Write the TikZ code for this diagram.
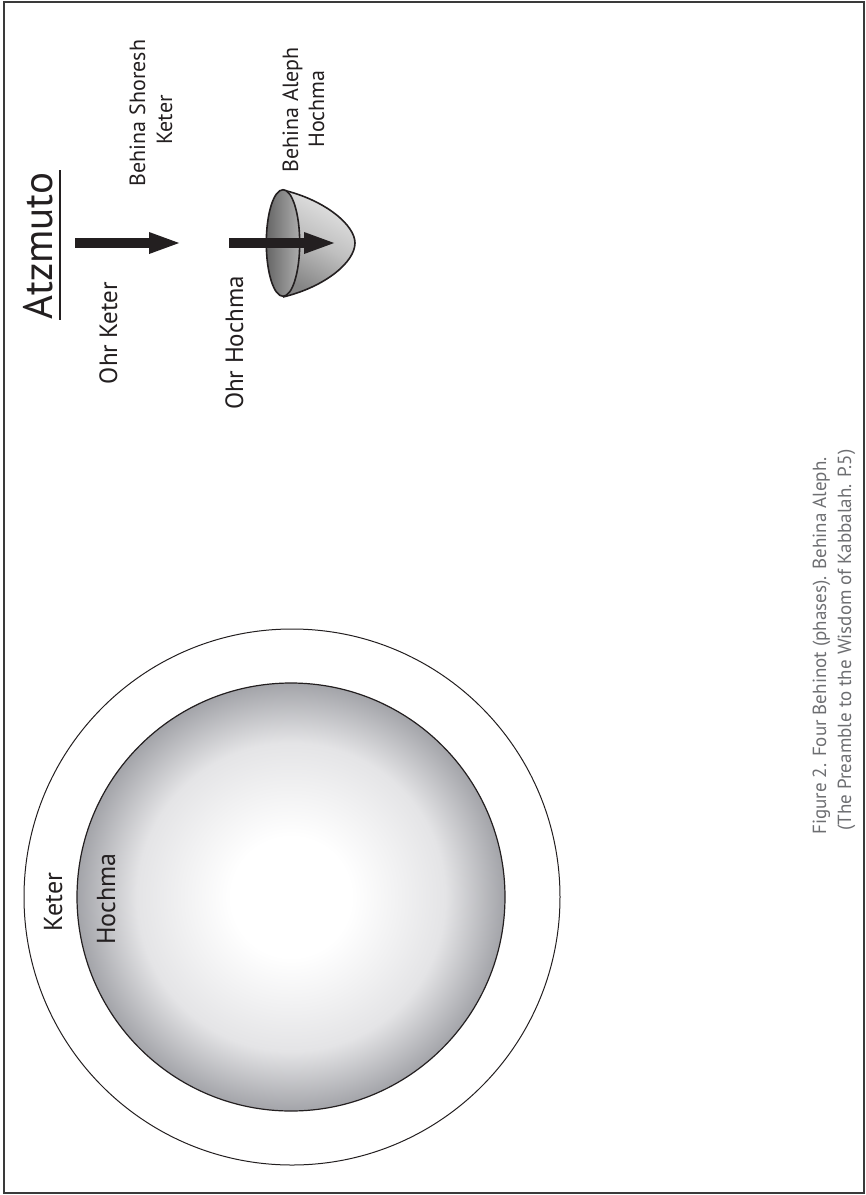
\documentclass[tikz,border=0pt]{standalone}
\usepackage{fontspec}
\setmainfont{PT Sans}
\usetikzlibrary{arrows.meta}
\definecolor{ink}{HTML}{231F20}
\definecolor{framec}{HTML}{3A3A3A}
\definecolor{capc}{HTML}{6D6E71}
\definecolor{edgegray}{RGB}{163,164,169}
\definecolor{midgray}{RGB}{228,228,230}
\pgfdeclareradialshading{sphere}{\pgfpoint{0bp}{0bp}}{color(0bp)=(white); color(7bp)=(white); color(18bp)=(midgray); color(25bp)=(edgegray); color(50bp)=(edgegray)}
\tikzset{
  lbl/.style={inner sep=0pt, outer sep=0pt, rotate=90, anchor=base, text=ink},
  caplbl/.style={lbl, text=capc, font=\fontsize{19}{23}\selectfont},
  bigarrow/.style={line width=10pt, draw=ink, -{Triangle[length=33pt, width=19pt]}},
}
\begin{document}
\begin{tikzpicture}[x=1pt, y=-1pt]
\useasboundingbox (0,0) rectangle (866,1195);
% frame
\draw[framec, line width=2pt] (4,2) rectangle (864,1193);
% circles
\draw[ink, line width=1pt] (292,897) circle[radius=268pt];
\shade[shading=sphere] (291,897) circle[radius=214pt];
\draw[ink, line width=1.2pt] (291,897) circle[radius=214pt];
\node[lbl, font=\fontsize{26}{30}\selectfont] (keter) at (62,902) {Keter};
\node[lbl, font=\fontsize{26}{30}\selectfont] (hochma) at (115,899) {Hochma};
% Atzmuto
\node[lbl, font=\fontsize{41}{48}\selectfont] (atz) at (52,246) {Atzmuto};
\coordinate (ul1) at (60,170);
\coordinate (ul2) at (60,320);
\draw[ink, line width=2.5pt] (ul1) -- (ul2);
% labels
\node[lbl, font=\fontsize{25}{30}\selectfont] (ohrk) at (117,333) {Ohr Keter};
\node[lbl, font=\fontsize{25}{30}\selectfont] (ohrh) at (243,343) {Ohr Hochma};
\node[lbl, font=\fontsize{22}{26}\selectfont] (bs1) at (145,113) {Behina Shoresh};
\node[lbl, font=\fontsize{22}{26}\selectfont] (bs2) at (172,120) {Keter};
\node[lbl, font=\fontsize{22}{26}\selectfont] (ba1) at (298,110) {Behina Aleph};
\node[lbl, font=\fontsize{22}{26}\selectfont] (ba2) at (324,109) {Hochma};
% vessel
\shade[top color=black!10, bottom color=black!48, middle color=black!25, shading angle=-30]
  (283,190) .. controls (325,200) and (355,225) .. (355,243)
  .. controls (355,262) and (325,287) .. (283,297) -- cycle;
\draw[ink, line width=1.6pt]
  (283,190) .. controls (325,200) and (355,225) .. (355,243)
  .. controls (355,262) and (325,287) .. (283,297);
\shade[left color=black!60, right color=black!32] (283,243) ellipse[x radius=16.7pt, y radius=53.3pt];
\draw[ink, line width=1.6pt] (283,243) ellipse[x radius=16.7pt, y radius=53.3pt];
% arrows
\coordinate (k1) at (75,243);
\coordinate (k2) at (182,243);
\coordinate (h1) at (229,243);
\coordinate (h2) at (337,243);
\draw[bigarrow] (k1) -- (k2);
\draw[bigarrow] (h1) -- (h2);
% caption
\node[caplbl] (cap1) at (826,646) {Figure 2. Four Behinot (phases). Behina Aleph.};
\node[caplbl] (cap2) at (851,640) {(The Preamble to the Wisdom of Kabbalah. P.5)};
\end{tikzpicture}
\end{document}
